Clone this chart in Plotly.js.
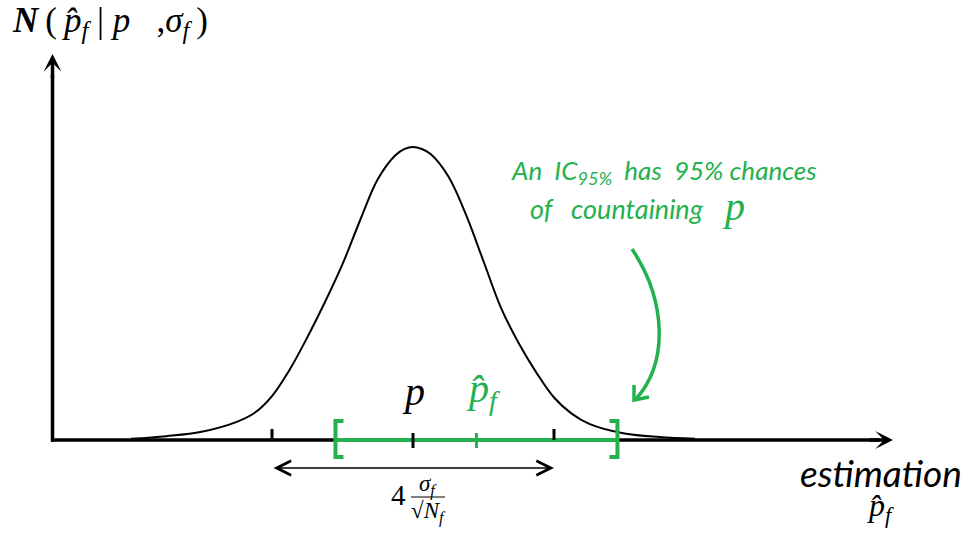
<!DOCTYPE html>
<html>
<head>
<meta charset="utf-8">
<script src="https://cdn.plot.ly/plotly-3.0.1.min.js"></script>
<style>html,body{margin:0;padding:0;background:#fff;}#chart{width:968px;height:541px;}</style>
</head>
<body>
<div id="chart"></div>
<script>
// ---- data (x in units of sigma around p, y relative to peak) ----
const estimation = [-4, -3.5, -3, -2.5, -2.25, -2, -1.75, -1.5, -1.25, -1, -0.75, -0.5, -0.25, -0.125, 0, 0.125, 0.25, 0.5, 0.75, 1, 1.25, 1.5, 1.75, 2, 2.25, 2.5, 3, 3.5, 4];
const density    = [0.004, 0.013, 0.028, 0.062, 0.092, 0.15, 0.24, 0.35, 0.47, 0.6, 0.75, 0.89, 0.972, 0.993, 1.0, 0.993, 0.976, 0.9, 0.77, 0.61, 0.45, 0.33, 0.23, 0.145, 0.09, 0.055, 0.022, 0.01, 0.004];
const pTrue = 0;          // true parameter p
const pHat = 0.9;         // estimate p-hat_f
const halfWidth = 2;      // 2 sigma_f / sqrt(N_f)
const tickValues = [-2, 0, 2];

// ---- pixel helpers for decoration placement ----
const W = 968, H = 541;
const PX0 = 413, PXU = 70.5, PY0 = 440, PYU = 293;
const X = px => (px - PX0) / PXU;
const Y = py => (PY0 - py) / PYU;
const px = v => v / W;
const py = v => 1 - v / H;

const GREEN = 'rgb(34,177,76)';
const SERIF = 'Liberation Serif, serif';
const SANS = 'Lato, sans-serif';
const NB = '\u00A0', TH = '\u2009';

const traces = [
  {x: estimation, y: density, mode: 'lines', line: {color: 'black', width: 2, shape: 'spline', smoothing: 1}, hoverinfo: 'skip'},
  {x: [pHat - halfWidth, pHat + halfWidth], y: [0, 0], mode: 'lines', line: {color: GREEN, width: 4}, hoverinfo: 'skip'}
];

const shapes = [];
// axes lines
shapes.push({type: 'line', xref: 'x', yref: 'y', x0: X(51), y0: 0, x1: X(880), y1: 0, line: {color: 'black', width: 3.5}, layer: 'below'});
shapes.push({type: 'line', xref: 'x', yref: 'y', x0: X(52.5), y0: Y(441.7), x1: X(52.5), y1: Y(75), line: {color: 'black', width: 3.5}, layer: 'below'});
// black ticks
tickValues.forEach(t => {
  const mid = (t === pTrue);
  shapes.push({type: 'line', xref: 'x', yref: 'y', x0: t, x1: t, y0: Y(mid ? 448 : 440), y1: Y(mid ? 433 : 429), line: {color: 'black', width: 3}});
});
// green tick at p-hat
shapes.push({type: 'line', xref: 'x', yref: 'y', x0: pHat, x1: pHat, y0: Y(448), y1: Y(433), line: {color: GREEN, width: 3}});
// brackets
const lo = pHat - halfWidth, hi = pHat + halfWidth;
const ser = 8 / PXU;
shapes.push({type: 'path', xref: 'x', yref: 'y', path: `M${lo + ser},${Y(421)} L${lo},${Y(421)} L${lo},${Y(457)} L${lo + ser},${Y(457)}`, line: {color: GREEN, width: 4}});
shapes.push({type: 'path', xref: 'x', yref: 'y', path: `M${hi - ser},${Y(421)} L${hi},${Y(421)} L${hi},${Y(457)} L${hi - ser},${Y(457)}`, line: {color: GREEN, width: 4}});
// curved green arrow
shapes.push({type: 'path', xref: 'x', yref: 'y', path: `M${X(632)},${Y(249)} C${X(666)},${Y(300)} ${X(669)},${Y(362)} ${X(636)},${Y(399)}`, line: {color: GREEN, width: 3.5}});
shapes.push({type: 'path', xref: 'x', yref: 'y', path: `M${X(634)},${Y(385)} L${X(634)},${Y(400)} L${X(649)},${Y(397)}`, line: {color: GREEN, width: 3.5}});
// fraction bar
shapes.push({type: 'line', xref: 'paper', yref: 'paper', x0: px(411), x1: px(445), y0: py(497), y1: py(497), line: {color: 'black', width: 1}});

function txt(x, y, text, size, color, family, xanchor) {
  return {xref: 'paper', yref: 'paper', x: px(x), y: py(y), text: text, showarrow: false,
    xanchor: xanchor || 'center', yanchor: 'middle', font: {size: size, color: color, family: family}};
}

const annotations = [
  // axis arrowheads
  {xref: 'x', yref: 'y', axref: 'x', ayref: 'y', x: X(893), y: 0, ax: X(868), ay: 0, text: '', showarrow: true, arrowhead: 3, arrowsize: 0.85, arrowwidth: 3.5, arrowcolor: 'black', standoff: 0},
  {xref: 'x', yref: 'y', axref: 'x', ayref: 'y', x: X(52.5), y: Y(54), ax: X(52.5), ay: Y(80), text: '', showarrow: true, arrowhead: 3, arrowsize: 0.85, arrowwidth: 3.5, arrowcolor: 'black', standoff: 0},
  // double arrow 4 sigma
  {xref: 'x', yref: 'y', axref: 'x', ayref: 'y', x: pTrue + halfWidth, y: Y(468), ax: pTrue - halfWidth, ay: Y(468), text: '', showarrow: true,
    arrowside: 'end+start', arrowhead: 5, startarrowhead: 5, arrowsize: 1.9, startarrowsize: 1.9, arrowwidth: 1.5, arrowcolor: 'black', standoff: 0, startstandoff: 0},
  // title
  txt(10, 23, '<b><i>N</i></b>' + TH + '(' + TH + '<i>p̂</i><sub><i>f</i></sub>' + NB + '|' + NB + '<i>p</i>' + NB + NB + NB + ',<i>σ</i><sub><i>f</i></sub>' + TH + ')', 35, 'black', SERIF, 'left'),
  // p and p-hat labels
  {xref: 'x', yref: 'paper', x: pTrue, y: py(391), text: '<i>p</i>', showarrow: false, yanchor: 'middle', font: {size: 40, color: 'black', family: SERIF}},
  {xref: 'x', yref: 'paper', x: pHat, y: py(391), text: '<i>p̂</i><sub><i>f</i></sub>', showarrow: false, xanchor: 'left', xshift: -12, yanchor: 'middle', font: {size: 40, color: GREEN, family: SERIF}},
  // 4 sigma / sqrt(N)
  txt(398, 495, '4', 29, 'black', SERIF),
  txt(428, 485, '<i>σ</i><sub><i>f</i></sub>', 23, 'black', SERIF),
  txt(428, 512, '√<i>N</i><sub><i>f</i></sub>', 23, 'black', SERIF),
  // green comment
  txt(664, 171, '<i>An' + NB + ' IC<sub>95%</sub>' + NB + ' has' + NB + ' 95% chances</i>', 26, GREEN, SANS),
  txt(617, 208, '<i>of' + NB + NB + ' countaining</i>', 27, GREEN, SANS),
  txt(733, 207, '<i>p</i>', 40, GREEN, SERIF),
  // x label
  txt(964, 472, '<i>estimation</i>', 37, 'black', SANS, 'right'),
  txt(880, 507, '<i>p̂</i><sub><i>f</i></sub>', 32, 'black', SERIF)
];

const layout = {
  width: W, height: H,
  margin: {l: 0, r: 0, t: 0, b: 0},
  paper_bgcolor: 'white', plot_bgcolor: 'white',
  showlegend: false,
  xaxis: {range: [X(0), X(W)], visible: false, fixedrange: true},
  yaxis: {range: [Y(H), Y(0)], visible: false, fixedrange: true},
  shapes: shapes,
  annotations: annotations
};

Plotly.newPlot('chart', traces, layout, {staticPlot: true, displayModeBar: false});
</script>
</body>
</html>
